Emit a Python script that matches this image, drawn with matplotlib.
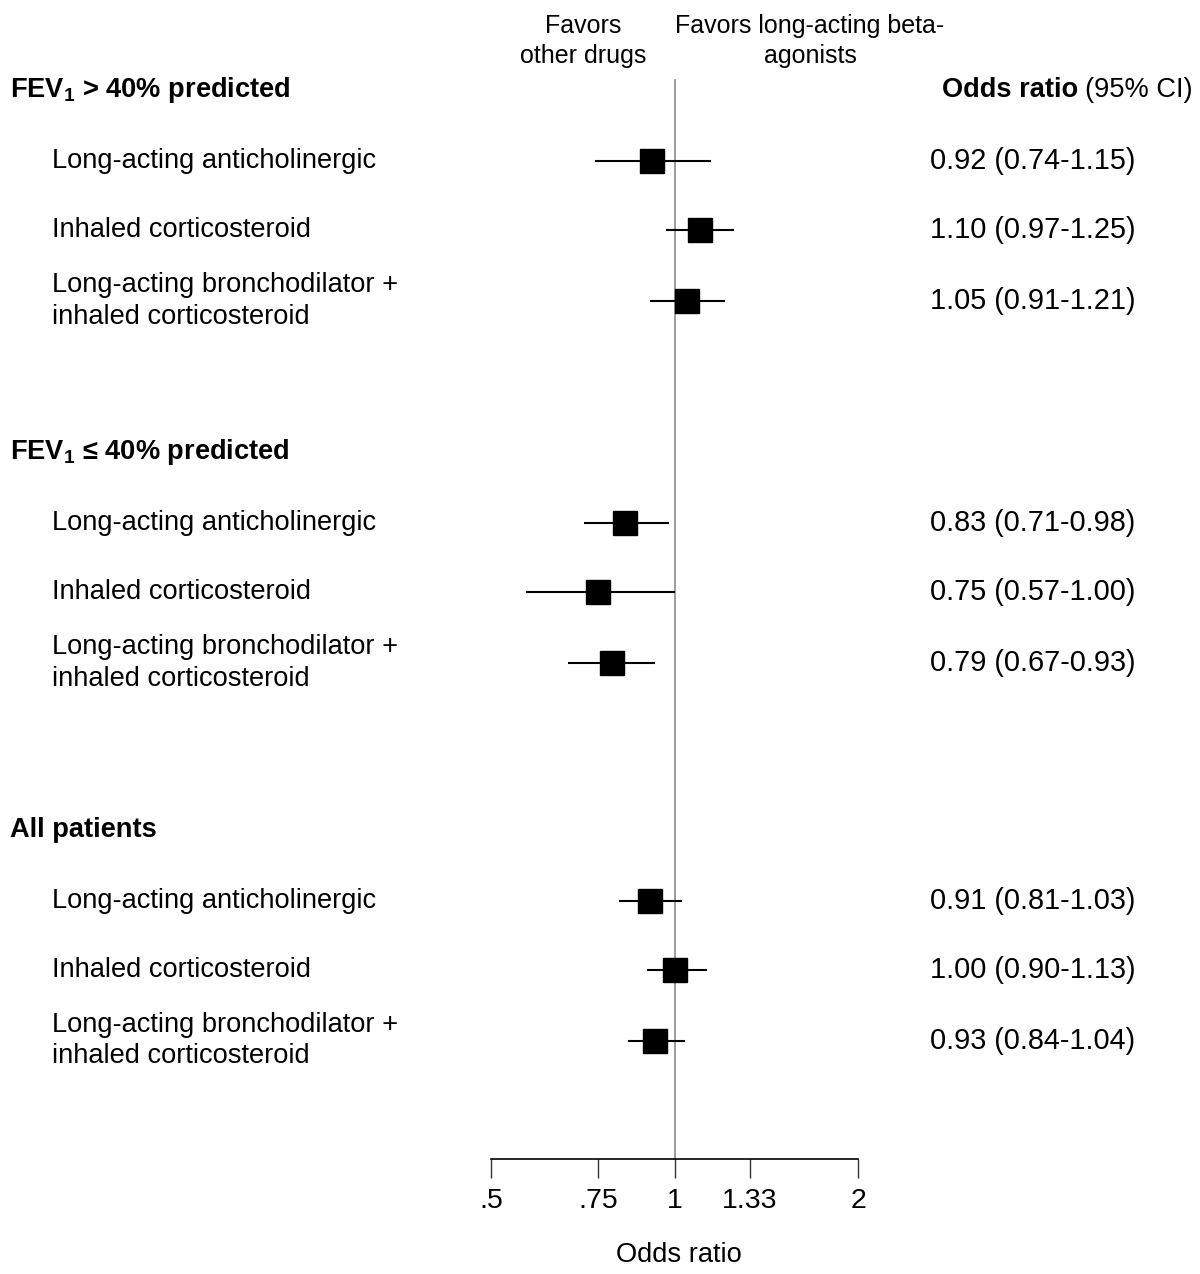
import numpy as np
import matplotlib.pyplot as plt
from matplotlib.ticker import NullLocator
from matplotlib.transforms import blended_transform_factory

plt.rcParams['font.family'] = ['Liberation Sans', 'DejaVu Sans']
plt.rcParams['mathtext.fontset'] = 'custom'
plt.rcParams['mathtext.rm'] = 'Liberation Sans'
plt.rcParams['mathtext.bf'] = 'Liberation Sans:bold'

# data
groups = [r'FEV$_\mathbf{1}$ > 40% predicted',
          r'FEV$_\mathbf{1}$ ≤ 40% predicted',
          'All patients']
comparisons = ['Long-acting anticholinergic',
               'Inhaled corticosteroid',
               'Long-acting bronchodilator +\ninhaled corticosteroid']
odds = [0.92, 1.10, 1.05, 0.83, 0.75, 0.79, 0.91, 1.00, 0.93]
ci_low = [0.74, 0.97, 0.91, 0.71, 0.57, 0.67, 0.81, 0.90, 0.84]
ci_high = [1.15, 1.25, 1.21, 0.98, 1.00, 0.93, 1.03, 1.13, 1.04]
ticks = [0.5, 0.75, 1, 1.33, 2]
tick_labels = ['.5', '.75', '1', '1.33', '2']

# layout (rows in units of ~71 px)
group_y = [0, 5.1, 10.42]
row_offsets = [1, 1.97, 2.97]
fs = 19.6

fig = plt.figure(figsize=(12, 12.74), dpi=100)
ax = fig.add_axes([491 / 1200, 1 - 1159 / 1274, 367 / 1200, 1159 / 1274])
ax.set_xscale('log')
ax.set_xlim(0.5, 2)
ax.set_ylim((1159 - 90) / 71, -90 / 71)

ax.plot([1, 1], [-0.14, (1159 - 90) / 71], color='#8c8c8c', lw=1.2,
        zorder=1, clip_on=False)

tr = blended_transform_factory(fig.transFigure, ax.transData)

k = 0
for g, gy in zip(groups, group_y):
    ax.text(10 / 1200, gy, g, transform=tr, ha='left', va='center',
            fontsize=fs, fontweight='bold')
    for lab, off in zip(comparisons, row_offsets):
        y = gy + off
        ax.hlines(y, ci_low[k], ci_high[k], color='black', lw=1.5, zorder=2)
        ax.plot(odds[k], y, 's', ms=17, color='black', zorder=3)
        ax.text(52 / 1200, y, lab, transform=tr, ha='left', va='center',
                fontsize=fs, linespacing=1.27)
        ax.text(930 / 1200, y,
                f'{odds[k]:.2f} ({ci_low[k]:.2f}-{ci_high[k]:.2f})',
                transform=tr, ha='left', va='center', fontsize=20.8)
        k += 1

t1 = ax.text(1193 / 1200, 0, '(95% CI)', transform=tr, ha='right',
             va='center', fontsize=fs)
ax.annotate('Odds ratio', xy=(0, 0), xycoords=(t1, ax.transData),
            xytext=(-5.4, 0), textcoords='offset points', ha='right',
            va='center', fontsize=fs, fontweight='bold')

fig.text(583 / 1200, 1 - 41 / 1274, 'Favors\nother drugs', ha='center',
         va='center', fontsize=18, linespacing=1.3)
fig.text(810 / 1200, 1 - 41 / 1274, 'Favors long-acting beta-\nagonists',
         ha='center', va='center', fontsize=18, linespacing=1.3)

for s in ['top', 'left', 'right']:
    ax.spines[s].set_visible(False)
ax.spines['bottom'].set_linewidth(1.2)
ax.set_yticks([])
ax.set_xticks(ticks)
ax.set_xticklabels(tick_labels)
ax.xaxis.set_minor_locator(NullLocator())
ax.tick_params(axis='x', length=13.7, width=1, pad=7, labelsize=20.5,
               color='#333333')

fig.text(679 / 1200, 1 - 1255 / 1274, 'Odds ratio', ha='center',
         va='center', fontsize=fs)

fig.savefig('out.png', dpi=100)
